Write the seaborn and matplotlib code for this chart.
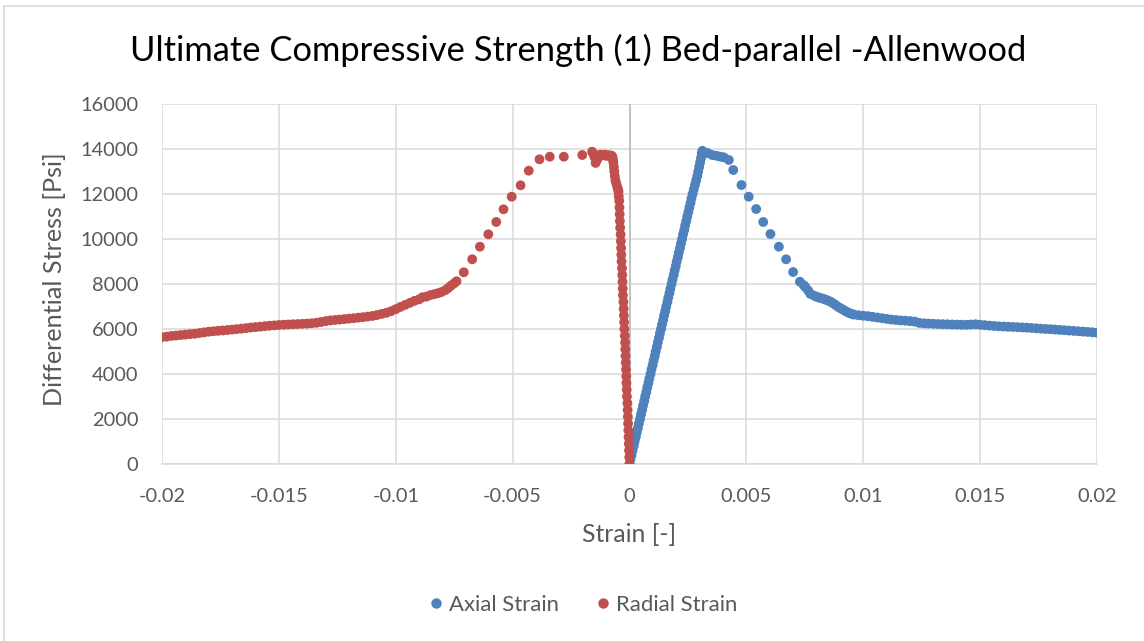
import matplotlib
matplotlib.use("Agg")
import matplotlib.pyplot as plt
from matplotlib.lines import Line2D
from matplotlib.patches import Rectangle
import pandas as pd
import seaborn as sns

# ---- Axial strain readings (strain [-], differential stress [psi]) ----
axial_strain = [
    0.00000, 0.00004, 0.00009, 0.00013, 0.00018, 0.00022, 0.00027, 0.00031,
    0.00036, 0.00040, 0.00045, 0.00049, 0.00054, 0.00058, 0.00063, 0.00067,
    0.00072, 0.00076, 0.00081, 0.00085, 0.00090, 0.00094, 0.00099, 0.00103,
    0.00108, 0.00112, 0.00117, 0.00121, 0.00126, 0.00130, 0.00135, 0.00139,
    0.00144, 0.00148, 0.00153, 0.00157, 0.00162, 0.00166, 0.00171, 0.00175,
    0.00180, 0.00184, 0.00189, 0.00193, 0.00198, 0.00202, 0.00207, 0.00211,
    0.00216, 0.00220, 0.00225, 0.00229, 0.00234, 0.00238, 0.00243, 0.00247,
    0.00252, 0.00256, 0.00261, 0.00265, 0.00270, 0.00275, 0.00280, 0.00285,
    0.00290, 0.00294, 0.00298, 0.00302, 0.00306, 0.00309, 0.00312,
    0.00335, 0.00354, 0.00372, 0.00389, 0.00403, 0.00425, 0.00444, 0.00479,
    0.00510, 0.00542, 0.00572, 0.00603, 0.00639, 0.00670, 0.00700, 0.00729,
    0.00745, 0.00753, 0.00765, 0.00774,
    0.0079, 0.0080, 0.0081, 0.0082, 0.0083, 0.0084, 0.0085, 0.0086, 0.0087,
    0.0088, 0.0089, 0.0090, 0.0091, 0.0092, 0.0093, 0.0094, 0.0095, 0.0096,
    0.0098, 0.0100, 0.0102, 0.0104, 0.0106, 0.0108, 0.0110, 0.0112, 0.0114,
    0.0116, 0.0118, 0.0120, 0.0122, 0.0124, 0.0126, 0.0128, 0.0130, 0.0132,
    0.0134, 0.0136, 0.0138, 0.0140, 0.0142, 0.0144, 0.0146, 0.0148, 0.0150,
    0.0152, 0.0154, 0.0156, 0.0158, 0.0160, 0.0162, 0.0164, 0.0166, 0.0168,
    0.0170, 0.0172, 0.0174, 0.0176, 0.0178, 0.0180, 0.0182, 0.0184, 0.0186,
    0.0188, 0.0190, 0.0192, 0.0194, 0.0196, 0.0198, 0.0200,
]
axial_stress = [
    0, 200, 400, 600, 800, 1000, 1200, 1400,
    1600, 1800, 2000, 2200, 2400, 2600, 2800, 3000,
    3200, 3400, 3600, 3800, 4000, 4200, 4400, 4600,
    4800, 5000, 5200, 5400, 5600, 5800, 6000, 6200,
    6400, 6600, 6800, 7000, 7200, 7400, 7600, 7800,
    8000, 8200, 8400, 8600, 8800, 9000, 9200, 9400,
    9600, 9800, 10000, 10200, 10400, 10600, 10800, 11000,
    11200, 11400, 11600, 11800, 12000, 12200, 12400, 12600,
    12800, 13000, 13200, 13400, 13600, 13800, 13920,
    13820, 13733, 13700, 13658, 13631, 13511, 13067, 12400,
    11880, 11333, 10756, 10222, 9658, 9098, 8533, 8102,
    7950, 7853, 7700, 7556,
    7480, 7430, 7400, 7370, 7340, 7300, 7260, 7213, 7150,
    7080, 7000, 6940, 6880, 6820, 6760, 6710, 6670, 6640,
    6610, 6590, 6570, 6540, 6510, 6480, 6450, 6420, 6400,
    6380, 6370, 6350, 6330, 6270, 6250, 6240, 6230, 6220,
    6215, 6210, 6200, 6195, 6190, 6185, 6200, 6210, 6190,
    6170, 6150, 6135, 6120, 6110, 6100, 6090, 6080, 6070,
    6060, 6045, 6030, 6015, 6000, 5990, 5975, 5960, 5945,
    5930, 5915, 5900, 5885, 5870, 5855, 5836,
]

# ---- Radial strain readings ----
radial_strain = [
    0.00000, -0.00001, -0.00002, -0.00003, -0.00004, -0.00005, -0.00006,
    -0.00007, -0.00008, -0.00009, -0.00011, -0.00012, -0.00013, -0.00014,
    -0.00015, -0.00016, -0.00017, -0.00018, -0.00019, -0.00020, -0.00022,
    -0.00023, -0.00024, -0.00025, -0.00026, -0.00028, -0.00029, -0.00030,
    -0.00031, -0.00032, -0.00034, -0.00035, -0.00036, -0.00037, -0.00038,
    -0.00040, -0.00041, -0.00042, -0.00043, -0.00044, -0.00046, -0.00047,
    -0.00049, -0.00052, -0.00056, -0.00060, -0.00063, -0.00065, -0.00067,
    -0.00069, -0.00071, -0.00073, -0.00076, -0.00080, -0.00085, -0.00090,
    -0.00095, -0.00100, -0.00105, -0.00110, -0.00115, -0.00120, -0.00125,
    -0.00130, -0.00135, -0.00140, -0.00145, -0.00150, -0.00155, -0.00160,
    -0.00202, -0.00281, -0.00341, -0.00385, -0.00431, -0.00466, -0.00504,
    -0.00539, -0.00570, -0.00604, -0.00640, -0.00673, -0.00709, -0.00740,
    -0.00750, -0.00763, -0.00775, -0.00787, -0.00805, -0.00821, -0.00835,
    -0.00851, -0.00868, -0.00886, -0.00900,
    -0.0092, -0.0094, -0.0096, -0.0098, -0.0100, -0.0102, -0.0104, -0.0106,
    -0.0108, -0.0110, -0.0112, -0.0114, -0.0116, -0.0118, -0.0120, -0.0122,
    -0.0124, -0.0126, -0.0128, -0.0130, -0.0132, -0.0134, -0.0136, -0.0138,
    -0.0140, -0.0142, -0.0144, -0.0146, -0.0148, -0.0150, -0.0152, -0.0154,
    -0.0156, -0.0158, -0.0160, -0.0162, -0.0164, -0.0166, -0.0168, -0.0170,
    -0.0172, -0.0174, -0.0176, -0.0178, -0.0180, -0.0182, -0.0184, -0.0186,
    -0.0188, -0.0190, -0.0192, -0.0194, -0.0196, -0.0198, -0.0200,
]
radial_stress = [
    0, 300, 600, 900, 1200, 1500, 1800,
    2100, 2400, 2700, 3000, 3300, 3600, 3900,
    4200, 4500, 4800, 5100, 5400, 5700, 6000,
    6300, 6600, 6900, 7200, 7500, 7800, 8100,
    8400, 8700, 9000, 9300, 9600, 9900, 10200,
    10500, 10800, 11100, 11400, 11700, 11900, 12100,
    12200, 12300, 12450, 12600, 12800, 13000, 13200,
    13400, 13550, 13650, 13700, 13700, 13720, 13700,
    13720, 13700, 13750, 13720, 13740, 13720, 13750,
    13700, 13600, 13500, 13380, 13650, 13800, 13880,
    13733, 13658, 13658, 13542, 13036, 12387, 11880,
    11320, 10756, 10209, 9658, 9098, 8520, 8120,
    8030, 7933, 7820, 7733, 7640, 7587, 7550,
    7511, 7440, 7409, 7320,
    7250, 7160, 7070, 6980, 6880, 6790, 6720, 6670,
    6620, 6580, 6550, 6525, 6505, 6480, 6460, 6440,
    6420, 6400, 6380, 6350, 6310, 6275, 6255, 6240,
    6230, 6220, 6210, 6200, 6190, 6178, 6160, 6145,
    6125, 6105, 6085, 6065, 6040, 6015, 5995, 5975,
    5955, 5935, 5920, 5900, 5880, 5850, 5820, 5790,
    5770, 5750, 5730, 5710, 5690, 5660, 5640,
]

x_ticks = [-0.02, -0.015, -0.01, -0.005, 0, 0.005, 0.01, 0.015, 0.02]
x_tick_labels = ["-0.02", "-0.015", "-0.01", "-0.005", "0",
                 "0.005", "0.01", "0.015", "0.02"]
y_ticks = [0, 2000, 4000, 6000, 8000, 10000, 12000, 14000, 16000]
y_tick_labels = [str(v) for v in y_ticks]

series_names = ["Axial Strain", "Radial Strain"]
series_colors = {"Axial Strain": "#4f81bd", "Radial Strain": "#c0504d"}

title_text = "Ultimate Compressive Strength (1) Bed-parallel -Allenwood"
x_label = "Strain [-]"
y_label = "Differential Stress [Psi]"

df = pd.concat([
    pd.DataFrame({"strain": axial_strain, "stress": axial_stress,
                  "series": series_names[0]}),
    pd.DataFrame({"strain": radial_strain, "stress": radial_stress,
                  "series": series_names[1]}),
], ignore_index=True)

sns.set_theme(style="white")
plt.rcParams["font.family"] = ["Lato", "DejaVu Sans"]

text_color = "#595959"
grid_color = "#d9d9d9"

fig = plt.figure(figsize=(11.44, 6.41), dpi=100)
ax = fig.add_axes([162 / 1144, 1 - 464 / 641, (1097 - 162) / 1144, (464 - 104) / 641])

sns.scatterplot(data=df, x="strain", y="stress", hue="series",
                palette=series_colors, s=50, linewidth=0, alpha=1,
                legend=False, ax=ax, zorder=3)

ax.set_xlim(-0.02, 0.02)
ax.set_ylim(0, 16000)
ax.set_xticks(x_ticks, x_tick_labels)
ax.set_yticks(y_ticks, y_tick_labels)
ax.tick_params(axis="both", length=0, labelsize=14.4, colors=text_color)
ax.tick_params(axis="x", pad=17)
ax.tick_params(axis="y", pad=17)
ax.grid(True, color=grid_color, linewidth=1.1, zorder=0)
ax.set_axisbelow(True)
for side in ["top", "right", "left"]:
    ax.spines[side].set_visible(False)
ax.spines["bottom"].set_color(grid_color)
ax.spines["bottom"].set_linewidth(1.1)
# vertical value axis crosses at zero strain
ax.axvline(0, color="#bfbfbf", linewidth=1.3, zorder=1)

ax.set_xlabel(x_label, fontsize=17.8, color=text_color, va="center")
ax.set_ylabel(y_label, fontsize=18.2, color=text_color, va="center")
ax.xaxis.set_label_coords(0.5, (464 - 535) / 360)
ax.yaxis.set_label_coords((55 - 162) / 935, 0.512)

fig.text(578 / 1144, 1 - 50 / 641, title_text, fontsize=24.8,
         color="#000000", ha="center", va="center")

handles = [Line2D([0], [0], marker="o", linestyle="none", markersize=7.5,
                  markerfacecolor=series_colors[n], markeredgewidth=0)
           for n in series_names]
leg = fig.legend(handles, series_names, loc="center", ncol=2,
                 bbox_to_anchor=(581 / 1144, 1 - 605 / 641), frameon=False,
                 fontsize=15.9, handletextpad=0.1, columnspacing=1.5,
                 handlelength=1.0)
for t in leg.get_texts():
    t.set_color(text_color)

# chart-area frame
fig.patches.append(Rectangle((4 / 1144, -0.05), 1.2, 1 - 6 / 641 + 0.05,
                             transform=fig.transFigure, fill=False,
                             edgecolor="#d9d9d9", linewidth=1.2))

fig.savefig("out.png", dpi=100)
